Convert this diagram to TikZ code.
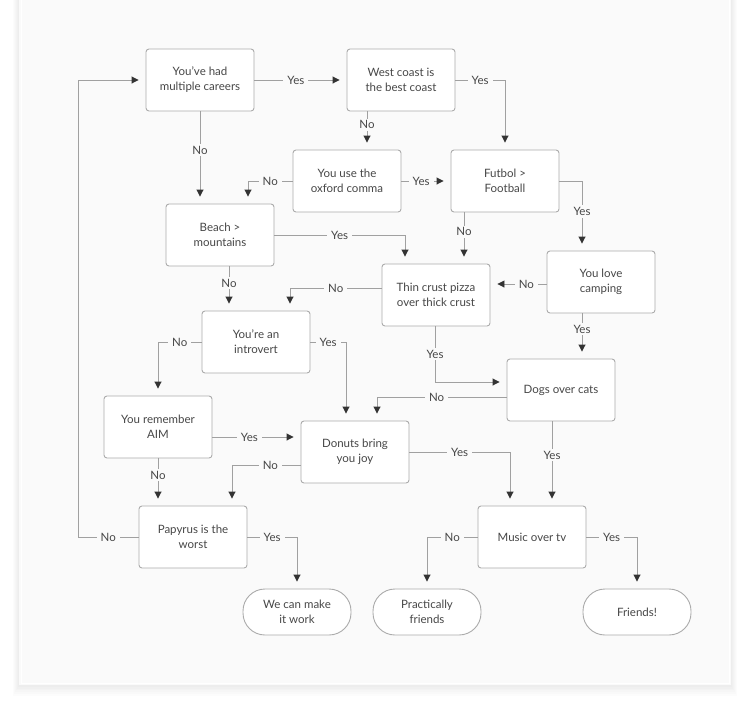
\documentclass[tikz,border=0pt]{standalone}
\usepackage{fontspec}
\setmainfont{Lato}
\usepackage{tikz}
\usetikzlibrary{arrows.meta, calc}
\definecolor{panel}{HTML}{FAFAFA}
\definecolor{boxline}{HTML}{ABABAB}
\definecolor{wire}{HTML}{A0A0A0}
\definecolor{tipcol}{HTML}{333333}
\definecolor{txt}{HTML}{474747}
\tikzset{
  qbox/.style={draw=boxline, fill=white, rounded corners=3pt, line width=0.9pt,
    minimum width=108pt, minimum height=62pt, align=center, text=txt,
    font=\fontsize{11.5}{15}\selectfont},
  endbox/.style={qbox, minimum height=46pt, rounded corners=22pt},
  arr/.style={draw=wire, line width=0.9pt, shorten >=7pt,
    -{Triangle[length=7pt, width=7pt, color=tipcol]}},
  lbl/.style={fill=panel, inner xsep=4pt, inner ysep=2pt, text=txt,
    font=\fontsize{11.5}{13}\selectfont}
}

\begin{document}
\begin{tikzpicture}[x=1pt, y=-1pt]
  \useasboundingbox (0,0) rectangle (750,721);
  % panel and its shadow
  \foreach \s in {1,...,6}
    \fill[black, opacity=0.01] (19-\s,0) rectangle (731+\s,685+1.8*\s);
  \fill[panel] (19,0) rectangle (731,685);
  \draw[white, line width=1pt] (21,0) -- (21,683) -- (729,683) -- (729,0);

  % questions
  \node[qbox] (careers) at (200,80) {You’ve had\\multiple careers};
  \node[qbox] (west) at (401,80) {West coast is\\the best coast};
  \node[qbox] (oxford) at (347,181) {You use the\\oxford comma};
  \node[qbox] (futbol) at (505,181) {Futbol >\\Football};
  \node[qbox] (beach) at (220,235) {Beach >\\mountains};
  \node[qbox] (thin) at (436,295) {Thin crust pizza\\over thick crust};
  \node[qbox] (camping) at (601,282) {You love\\camping};
  \node[qbox] (introvert) at (256,342) {You’re an\\introvert};
  \node[qbox] (dogs) at (561,390) {Dogs over cats};
  \node[qbox] (aim) at (158,427) {You remember\\AIM};
  \node[qbox] (donuts) at (355,452) {Donuts bring\\you joy};
  \node[qbox] (papyrus) at (193,537) {Papyrus is the\\worst};
  \node[qbox] (music) at (532,537) {Music over tv};

  % answers
  \node[endbox] (work) at (297,612) {We can make\\it work};
  \node[endbox] (practically) at (427,612) {Practically\\friends};
  \node[endbox] (friends) at (637,612) {Friends!};

  \coordinate (loop) at (78,537);

  % connectors
  \draw[arr] (careers) -- node[lbl, pos=0.45]{Yes} (west);
  \draw[arr] (careers.south) -- node[lbl, pos=0.42]{No} (careers.south |- beach.north);
  \draw[arr] (west) -| node[lbl, pos=0.25]{Yes} (futbol);
  \draw[arr] ([xshift=-34pt]west.south) -- node[lbl, pos=0.35]{No} ([xshift=-34pt]west.south |- oxford.north);
  \draw[arr] (oxford.west) -| node[lbl, pos=0.25]{No} ([xshift=28pt]beach.north);
  \draw[arr] (oxford) -- node[lbl, pos=0.4]{Yes} (futbol);
  \draw[arr] ([xshift=-41pt]futbol.south) -- node[lbl, pos=0.38]{No} ([xshift=-41pt]futbol.south |- thin.north);
  \draw[arr] (futbol.east) -| node[lbl, pos=0.72]{Yes} ([xshift=-19pt]camping.north);
  \draw[arr] (beach.east) -| node[lbl, pos=0.25]{Yes} ([xshift=-31pt]thin.north);
  \draw[arr] ([xshift=9pt]beach.south) -- node[lbl, pos=0.38]{No} ([xshift=9pt]beach.south |- introvert.north);
  \draw[arr] ([yshift=-2pt]camping.west) -- node[lbl, pos=0.36]{No} ([yshift=-2pt]camping.west -| thin.east);
  \draw[arr] ([xshift=-19pt]camping.south) -- node[lbl, pos=0.35]{Yes} ([xshift=-19pt]camping.south |- dogs.north);
  \draw[arr] ([yshift=7pt]thin.west) -| node[lbl, pos=0.25]{No} ([xshift=34pt]introvert.north);
  \draw[arr] ([xshift=-1pt]thin.south) |- node[lbl, pos=0.25]{Yes} ([yshift=8pt]dogs.west);
  \draw[arr] (introvert.west) -| node[lbl, pos=0.25]{No} (aim.north);
  \draw[arr] (introvert.east) -| node[lbl, pos=0.25]{Yes} ([xshift=-9pt]donuts.north);
  \draw[arr] ([yshift=-7pt]dogs.west) -| node[lbl, pos=0.27]{No} ([xshift=22pt]donuts.north);
  \draw[arr] ([yshift=-10pt]aim.east) -- node[lbl, pos=0.42]{Yes} ([yshift=-10pt]aim.east -| donuts.west);
  \draw[arr] (aim.south) -- node[lbl, pos=0.35]{No} (aim.south |- papyrus.north);
  \draw[arr] ([yshift=-13pt]donuts.west) -| node[lbl, pos=0.22]{No} ([xshift=39pt]papyrus.north);
  \draw[arr] (donuts.east) -| node[lbl, pos=0.25]{Yes} ([xshift=-22pt]music.north);
  \draw[arr] ([xshift=-9pt]dogs.south) -- node[lbl, pos=0.4]{Yes} ([xshift=-9pt]dogs.south |- music.north);
  \draw[arr] (papyrus.west) -- node[lbl]{No} (loop) |- (careers.west);
  \draw[arr] (papyrus.east) -| node[lbl, pos=0.25]{Yes} (work.north);
  \draw[arr] (music.west) -| node[lbl, pos=0.25]{No} (practically.north);
  \draw[arr] (music.east) -| node[lbl, pos=0.25]{Yes} (friends.north);
\end{tikzpicture}
\end{document}
